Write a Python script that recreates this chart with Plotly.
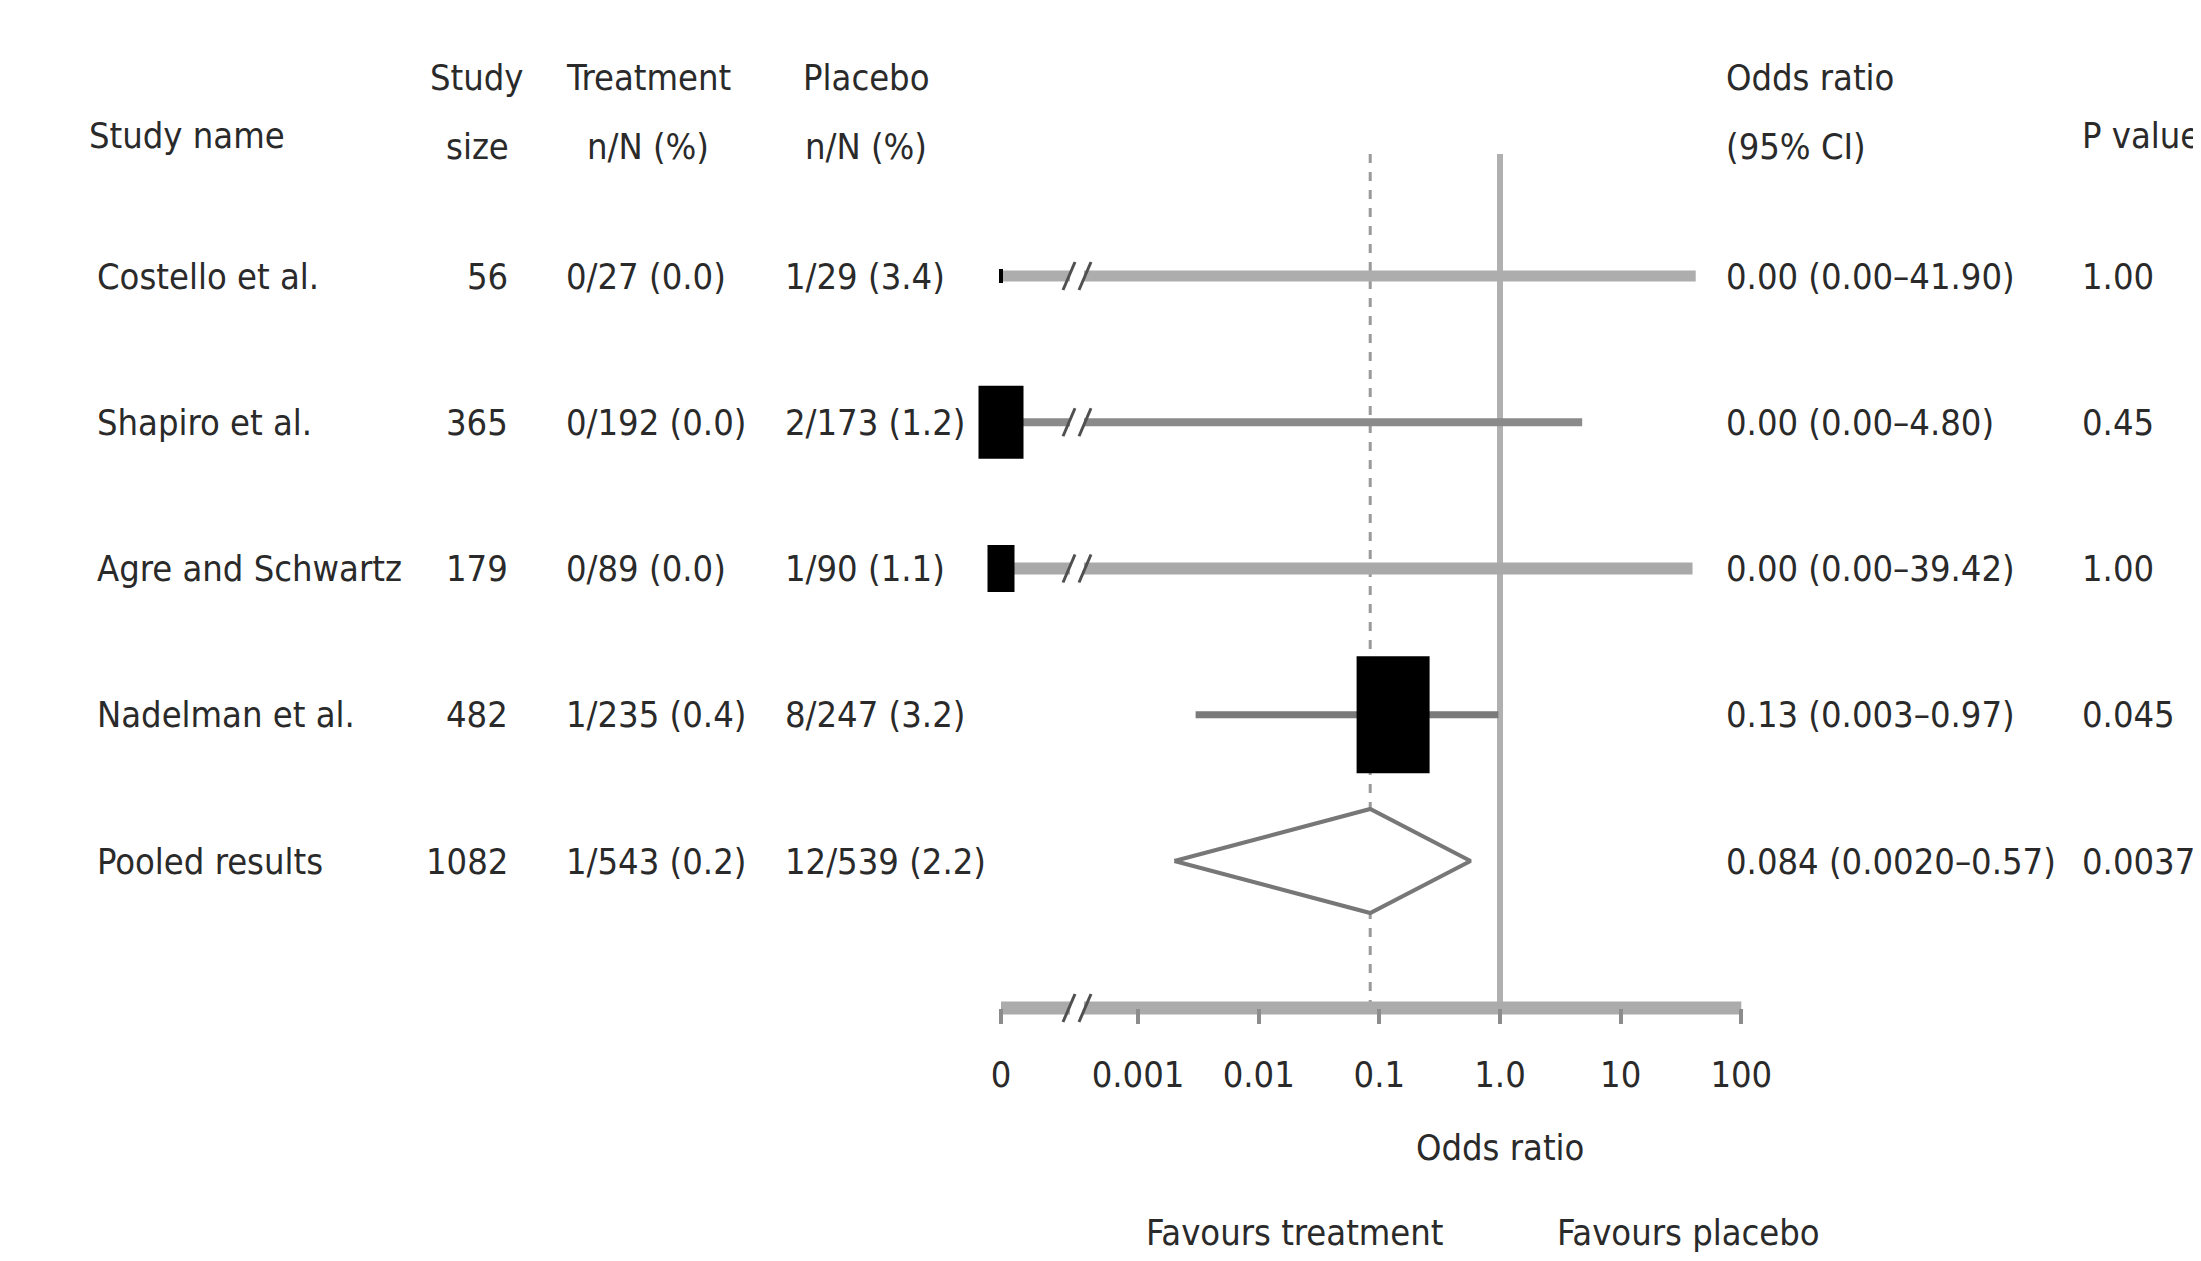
import numpy as np
import plotly.graph_objects as go

# ---------------- data ----------------
studies = ["Costello et al.", "Shapiro et al.", "Agre and Schwartz", "Nadelman et al.", "Pooled results"]
study_size = ["56", "365", "179", "482", "1082"]
treatment = ["0/27 (0.0)", "0/192 (0.0)", "0/89 (0.0)", "1/235 (0.4)", "1/543 (0.2)"]
placebo = ["1/29 (3.4)", "2/173 (1.2)", "1/90 (1.1)", "8/247 (3.2)", "12/539 (2.2)"]
or_est = [0.0, 0.0, 0.0, 0.13, 0.084]
ci_low = [0.0, 0.0, 0.0, 0.003, 0.0020]
ci_high = [41.90, 4.80, 39.42, 0.97, 0.57]
or_text = ["0.00 (0.00–41.90)", "0.00 (0.00–4.80)", "0.00 (0.00–39.42)",
           "0.13 (0.003–0.97)", "0.084 (0.0020–0.57)"]
p_values = ["1.00", "0.45", "1.00", "0.045", "0.0037"]
tick_values = [0.0, 0.001, 0.01, 0.1, 1.0, 10.0, 100.0]
tick_labels = ["0", "0.001", "0.01", "0.1", "1.0", "10", "100"]
pooled_index = 4
reference_or = 1.0

# ---------------- styling / layout (screen pixels) ----------------
OFF = 8                # page body margin
W, H = 2193, 1245      # figure size
ONE_PX = 1500          # pixel of OR = 1
DECADE_PX = 120.65     # pixels per decade
ZERO_PX = 1001         # pixel used for OR = 0 (broken axis)
BREAK_PX = 1077        # axis break symbol
ROW0_PX = 276
ROW_STEP_PX = 146.25
AXIS_PX = 1008
TOP_LINE_PX = 154

FONT = "DejaVu Sans Condensed, Liberation Sans Narrow, DejaVu Sans, sans-serif"
FS = 36
TXT = "#2a2a2a"

box_w = [4, 45, 27, 73]      # marker box sizes (px), drawn per study
box_h = [14, 73, 47, 117]
ci_color = ["#adadad", "#8a8a8a", "#a9a9a9", "#7a7a7a"]
ci_width = [11, 8, 12, 7]
DIAMOND_HALF_PX = 52


def px_to_x(px):
    return (px - ONE_PX) / DECADE_PX


def px_to_y(py):
    return (py - ROW0_PX) / ROW_STEP_PX


ZERO_X = px_to_x(ZERO_PX)
BREAK_X = px_to_x(BREAK_PX)


def to_x(vals):
    v = np.asarray(vals, dtype=float)
    out = np.full(v.shape, ZERO_X)
    pos = v > 0
    out[pos] = np.log10(v[pos])
    return out


x_est = to_x(or_est)
x_lo = to_x(ci_low)
x_hi = to_x(ci_high)
x_ticks = to_x(tick_values)
x_ref = float(to_x([reference_or])[0])
rows = np.arange(len(studies))

fig = go.Figure()

# CI lines for individual studies
for i in range(len(studies)):
    if i == pooled_index:
        continue
    fig.add_trace(go.Scatter(x=[x_lo[i], x_hi[i]], y=[rows[i], rows[i]], mode="lines",
                             line=dict(color=ci_color[i], width=ci_width[i]),
                             hoverinfo="skip", showlegend=False))

# pooled diamond
hh = DIAMOND_HALF_PX / ROW_STEP_PX
r = rows[pooled_index]
fig.add_trace(go.Scatter(
    x=[x_lo[r], x_est[r], x_hi[r], x_est[r], x_lo[r]],
    y=[r, r - hh, r, r + hh, r],
    mode="lines", fill="toself", fillcolor="white",
    line=dict(color="#777777", width=4), hoverinfo="skip", showlegend=False))

# dummy trace for the bottom axis
fig.add_trace(go.Scatter(x=x_ticks, y=[px_to_y(AXIS_PX)] * len(x_ticks), xaxis="x2",
                         mode="markers", marker=dict(opacity=0), hoverinfo="skip",
                         showlegend=False))

shapes = []
y_top = px_to_y(TOP_LINE_PX)
y_axis = px_to_y(AXIS_PX)
# reference line at OR = 1
shapes.append(dict(type="line", xref="x", yref="y", x0=x_ref, x1=x_ref, y0=y_top, y1=y_axis,
                   line=dict(color="#b0b0b0", width=6), layer="below"))
# pooled estimate dashed line
shapes.append(dict(type="line", xref="x", yref="y", x0=x_est[pooled_index], x1=x_est[pooled_index],
                   y0=y_top, y1=y_axis, line=dict(color="#9a9a9a", width=3, dash="dash"),
                   layer="below"))
# axis line
shapes.append(dict(type="line", xref="x", yref="y", x0=x_ticks[0], x1=x_ticks[-1], y0=y_axis, y1=y_axis,
                   line=dict(color="#ababab", width=13), layer="below"))

# study boxes
for i in range(len(studies)):
    if i == pooled_index:
        continue
    shapes.append(dict(type="rect", xref="x", yref="y", xsizemode="pixel", ysizemode="pixel",
                       xanchor=x_est[i], yanchor=rows[i],
                       x0=-box_w[i] / 2, x1=box_w[i] / 2, y0=-box_h[i] / 2, y1=box_h[i] / 2,
                       fillcolor="black", line=dict(width=0), layer="above"))


def break_mark(yv, gap_h):
    out = [dict(type="rect", xref="x", yref="y", xsizemode="pixel", ysizemode="pixel",
                xanchor=BREAK_X, yanchor=yv, x0=-7, x1=7, y0=-gap_h / 2, y1=gap_h / 2,
                fillcolor="white", line=dict(width=0), layer="above")]
    for dx in (-8, 8):
        out.append(dict(type="line", xref="x", yref="y", xsizemode="pixel", ysizemode="pixel",
                        xanchor=BREAK_X, yanchor=yv, x0=dx - 6, x1=dx + 6, y0=-14, y1=14,
                        line=dict(color="#505050", width=3), layer="above"))
    return out


for i in range(len(studies)):
    if ci_low[i] == 0:
        shapes += break_mark(rows[i], ci_width[i] + 2)
shapes += break_mark(y_axis, 15)

annotations = []


def ann(text, x, y, xanchor="left", xref="paper", yref="paper"):
    annotations.append(dict(text=text, x=x, y=y, xref=xref, yref=yref, xanchor=xanchor,
                            yanchor="middle", showarrow=False,
                            font=dict(family=FONT, size=FS, color=TXT)))


def px(xp):
    return (xp - OFF) / W


def py(yp):
    return 1 - (yp - OFF) / H


# headers
ann("Study name", px(87), py(136))
ann("Study", px(477), py(77), "center")
ann("size", px(477), py(147), "center")
ann("Treatment", px(648), py(77), "center")
ann("n/N (%)", px(648), py(147), "center")
ann("Placebo", px(866), py(77), "center")
ann("n/N (%)", px(866), py(147), "center")
ann("Odds ratio", px(1724), py(77))
ann("(95% CI)", px(1724), py(147))
ann("P value", px(2080), py(136))

# table rows
for i in range(len(studies)):
    ann(studies[i], px(95), rows[i], "left", yref="y")
    ann(study_size[i], px(510), rows[i], "right", yref="y")
    ann(treatment[i], px(564), rows[i], "left", yref="y")
    ann(placebo[i], px(783), rows[i], "left", yref="y")
    ann(or_text[i], px(1724), rows[i], "left", yref="y")
    ann(p_values[i], px(2080), rows[i], "left", yref="y")

# axis title and direction labels
ann("Odds ratio", x_ref, py(1147), "center", xref="x")
ann("Favours treatment", px(1446), py(1232), "right")
ann("Favours placebo", px(1555), py(1232), "left")

x_range = [px_to_x(OFF), px_to_x(OFF + W)]
y_range = [px_to_y(OFF + H), px_to_y(OFF)]

fig.update_layout(
    width=W, height=H, margin=dict(l=0, r=0, t=0, b=0),
    paper_bgcolor="white", plot_bgcolor="white",
    shapes=shapes, annotations=annotations, showlegend=False,
    font=dict(family=FONT, size=FS, color=TXT),
    xaxis=dict(domain=[0, 1], range=x_range, visible=False),
    xaxis2=dict(overlaying="x", anchor="free", position=1 - (AXIS_PX - OFF) / H, side="bottom",
                range=x_range, tickmode="array", tickvals=x_ticks, ticktext=tick_labels,
                ticks="outside", ticklen=15, tickwidth=4, tickcolor="#8c8c8c",
                showline=False, showgrid=False, zeroline=False,
                tickfont=dict(family=FONT, size=FS, color=TXT), ticklabelstandoff=20),
    yaxis=dict(domain=[0, 1], range=y_range, visible=False),
)

fig.write_html("out.html")
